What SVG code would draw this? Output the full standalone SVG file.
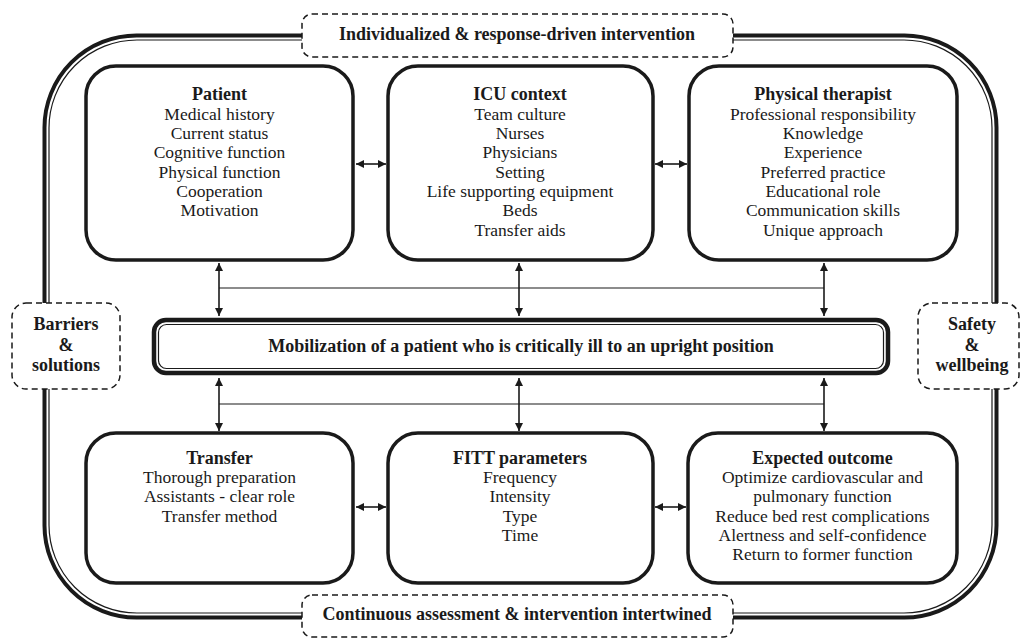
<svg xmlns="http://www.w3.org/2000/svg" width="1021" height="638" viewBox="0 0 1021 638">
<style>
text{font-family:"Liberation Serif","Times New Roman",serif;text-anchor:middle;fill:#1a1a1a}
.t{font-weight:bold;font-size:18px}
.l{font-size:17.5px}
.node{fill:#fff;stroke:#1a1a1a;stroke-width:3.5}
.dash{fill:#fff;stroke:#1a1a1a;stroke-width:1.5;stroke-dasharray:6 4}
.c{fill:none;stroke:#1a1a1a;stroke-width:1.6}
.h{fill:none;stroke:#1a1a1a;stroke-width:1.1}
</style>
<defs>
<marker id="ah" viewBox="0 0 10 10" refX="10" refY="5" markerWidth="5" markerHeight="5" orient="auto-start-reverse" markerUnits="strokeWidth">
<path d="M0,0 L10,5 L0,10 z" fill="#1a1a1a"/>
</marker>
</defs>
<rect width="1021" height="638" fill="#fff"/>
<g id="frame">
<rect x="44.5" y="35.5" width="952" height="582" rx="92" fill="none" stroke="#1a1a1a" stroke-width="4"/>
<rect x="49" y="40" width="943" height="573" rx="88" fill="none" stroke="#1a1a1a" stroke-width="1.2"/>
</g>
<g id="connectors">
<line class="c" x1="356" y1="164" x2="386" y2="164" marker-start="url(#ah)" marker-end="url(#ah)"/>
<line class="c" x1="655" y1="164" x2="687" y2="164" marker-start="url(#ah)" marker-end="url(#ah)"/>
<line class="c" x1="356" y1="507" x2="386" y2="507" marker-start="url(#ah)" marker-end="url(#ah)"/>
<line class="c" x1="655" y1="507" x2="686" y2="507" marker-start="url(#ah)" marker-end="url(#ah)"/>
<line class="h" x1="219" y1="288" x2="824" y2="288"/>
<line class="h" x1="219" y1="404" x2="824" y2="404"/>
<line class="c" x1="219" y1="263" x2="219" y2="316" marker-start="url(#ah)" marker-end="url(#ah)"/>
<line class="c" x1="519" y1="263" x2="519" y2="316" marker-start="url(#ah)" marker-end="url(#ah)"/>
<line class="c" x1="824" y1="263" x2="824" y2="316" marker-start="url(#ah)" marker-end="url(#ah)"/>
<line class="c" x1="219" y1="378" x2="219" y2="431" marker-start="url(#ah)" marker-end="url(#ah)"/>
<line class="c" x1="519" y1="378" x2="519" y2="431" marker-start="url(#ah)" marker-end="url(#ah)"/>
<line class="c" x1="824" y1="378" x2="824" y2="431" marker-start="url(#ah)" marker-end="url(#ah)"/>
</g>
<g font-family="Liberation Serif">
<g id="top-label">
<rect class="dash" x="302" y="14" width="431" height="43" rx="10"/>
<text class="t" x="517" y="40">Individualized &amp; response-driven intervention</text>
</g>
<g id="bottom-label">
<rect class="dash" x="302" y="595" width="431" height="42" rx="10"/>
<text class="t" x="517" y="620">Continuous assessment &amp; intervention intertwined</text>
</g>
<g id="left-label">
<rect class="dash" x="12" y="303" width="108" height="86" rx="14"/>
<text class="t" x="66" y="330">Barriers</text>
<text class="t" x="66" y="351">&amp;</text>
<text class="t" x="66" y="371">solutions</text>
</g>
<g id="right-label">
<rect class="dash" x="918" y="303" width="101" height="86" rx="14"/>
<text class="t" x="972" y="330">Safety</text>
<text class="t" x="972" y="351">&amp;</text>
<text class="t" x="972" y="371">wellbeing</text>
</g>
<g id="patient">
<rect class="node" x="86" y="66" width="267" height="194" rx="30"/>
<text class="t" x="219.5" y="100">Patient</text>
<text class="l" x="219.5" y="119.5">Medical history</text>
<text class="l" x="219.5" y="139">Current status</text>
<text class="l" x="219.5" y="158">Cognitive function</text>
<text class="l" x="219.5" y="177.5">Physical function</text>
<text class="l" x="219.5" y="197">Cooperation</text>
<text class="l" x="219.5" y="216">Motivation</text>
</g>
<g id="icu">
<rect class="node" x="388" y="66" width="265" height="194" rx="30"/>
<text class="t" x="520" y="100">ICU context</text>
<text class="l" x="520" y="119.5">Team culture</text>
<text class="l" x="520" y="139">Nurses</text>
<text class="l" x="520" y="158">Physicians</text>
<text class="l" x="520" y="177.5">Setting</text>
<text class="l" x="520" y="197">Life supporting equipment</text>
<text class="l" x="520" y="216">Beds</text>
<text class="l" x="520" y="235.5">Transfer aids</text>
</g>
<g id="therapist">
<rect class="node" x="689" y="66" width="268" height="194" rx="30"/>
<text class="t" x="823" y="100">Physical therapist</text>
<text class="l" x="823" y="119.5">Professional responsibility</text>
<text class="l" x="823" y="139">Knowledge</text>
<text class="l" x="823" y="158">Experience</text>
<text class="l" x="823" y="177.5">Preferred practice</text>
<text class="l" x="823" y="197">Educational role</text>
<text class="l" x="823" y="216">Communication skills</text>
<text class="l" x="823" y="235.5">Unique approach</text>
</g>
<g id="mobilization">
<rect x="154" y="320" width="734" height="53" rx="12" fill="#fff" stroke="#1a1a1a" stroke-width="4.5"/>
<rect x="158.5" y="324.5" width="725" height="44" rx="8" fill="none" stroke="#1a1a1a" stroke-width="1.2"/>
<text class="t" x="521" y="352">Mobilization of a patient who is critically ill to an upright position</text>
</g>
<g id="transfer">
<rect class="node" x="86" y="433" width="267" height="150" rx="30"/>
<text class="t" x="219.5" y="463.5">Transfer</text>
<text class="l" x="219.5" y="483">Thorough preparation</text>
<text class="l" x="219.5" y="502">Assistants - clear role</text>
<text class="l" x="219.5" y="521.5">Transfer method</text>
</g>
<g id="fitt">
<rect class="node" x="388" y="433" width="265" height="150" rx="30"/>
<text class="t" x="520" y="463.5">FITT parameters</text>
<text class="l" x="520" y="483">Frequency</text>
<text class="l" x="520" y="502">Intensity</text>
<text class="l" x="520" y="521.5">Type</text>
<text class="l" x="520" y="541">Time</text>
</g>
<g id="outcome">
<rect class="node" x="688" y="433" width="269" height="150" rx="30"/>
<text class="t" x="822.5" y="463.5">Expected outcome</text>
<text class="l" x="822.5" y="483">Optimize cardiovascular and</text>
<text class="l" x="822.5" y="502">pulmonary function</text>
<text class="l" x="822.5" y="521.5">Reduce bed rest complications</text>
<text class="l" x="822.5" y="541">Alertness and self-confidence</text>
<text class="l" x="822.5" y="560">Return to former function</text>
</g>
</g>
</svg>
